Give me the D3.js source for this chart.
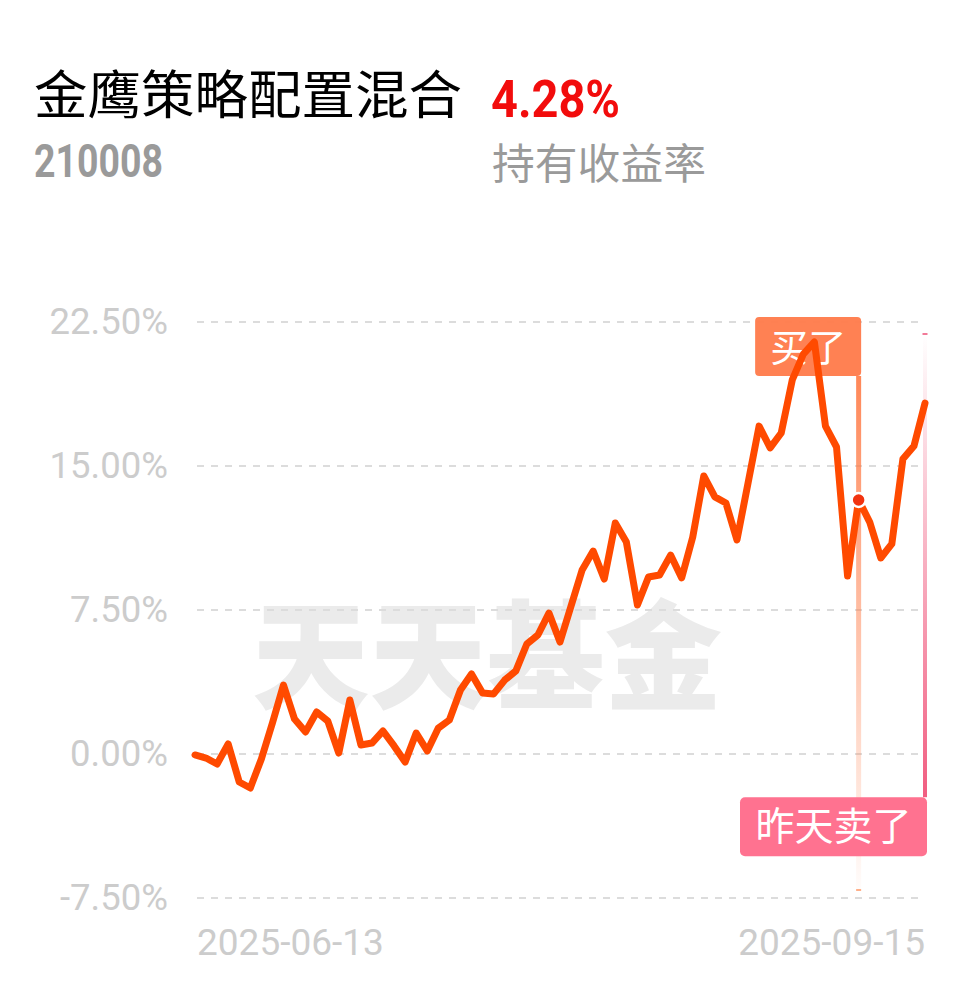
<!DOCTYPE html>
<html>
<head>
<meta charset="utf-8">
<script src="https://cdn.jsdelivr.net/npm/d3@7"></script>
<style>
  html, body { margin: 0; padding: 0; background: #fff; }
  svg { display: block; }
</style>
</head>
<body>
<svg id="chart" width="978" height="986"></svg>
<script>
// ---- data ----
const fundName = "金鹰策略配置混合";
const fundCode = "210008";
const holdReturn = "4.28%";
const holdReturnLabel = "持有收益率";
const watermark = "天天基金";

const dates = [
  "2025-06-13",
  "2025-06-16","2025-06-17","2025-06-18","2025-06-19","2025-06-20",
  "2025-06-23","2025-06-24","2025-06-25","2025-06-26","2025-06-27",
  "2025-06-30","2025-07-01","2025-07-02","2025-07-03","2025-07-04",
  "2025-07-07","2025-07-08","2025-07-09","2025-07-10","2025-07-11",
  "2025-07-14","2025-07-15","2025-07-16","2025-07-17","2025-07-18",
  "2025-07-21","2025-07-22","2025-07-23","2025-07-24","2025-07-25",
  "2025-07-28","2025-07-29","2025-07-30","2025-07-31","2025-08-01",
  "2025-08-04","2025-08-05","2025-08-06","2025-08-07","2025-08-08",
  "2025-08-11","2025-08-12","2025-08-13","2025-08-14","2025-08-15",
  "2025-08-18","2025-08-19","2025-08-20","2025-08-21","2025-08-22",
  "2025-08-25","2025-08-26","2025-08-27","2025-08-28","2025-08-29",
  "2025-09-01","2025-09-02","2025-09-03","2025-09-04","2025-09-05",
  "2025-09-08","2025-09-09","2025-09-10","2025-09-11","2025-09-12",
  "2025-09-15"
];
const returns = [
  -0.05, -0.21, -0.52, 0.52, -1.46, -1.77, -0.26, 1.61, 3.59, 1.82,
  1.15, 2.19, 1.72, 0.05, 2.81, 0.47, 0.57, 1.20, 0.42, -0.42,
  1.09, 0.16, 1.35, 1.77, 3.33, 4.17, 3.18, 3.13, 3.85, 4.32,
  5.73, 6.20, 7.34, 5.83, 7.71, 9.58, 10.57, 9.11, 12.03, 11.04,
  7.76, 9.22, 9.32, 10.36, 9.17, 11.30, 14.48, 13.39, 13.07, 11.15,
  14.11, 17.08, 15.94, 16.72, 19.48, 20.83, 21.46, 17.08, 15.99, 9.27,
  13.23, 12.08, 10.21, 10.94, 15.36, 16.04, 18.28
];
const yTicks = [-7.5, 0, 7.5, 15, 22.5];
const xTickLabels = ["2025-06-13", "2025-09-15"];
const buyDate = "2025-09-05";
const buyLabel = "买了";
const sellDate = "2025-09-15";
const sellLabel = "昨天卖了";

// ---- layout ----
const svg = d3.select("#chart");
const plot = { left: 195, right: 925, top: 322, bottom: 898 };

const x = d3.scalePoint().domain(dates).range([plot.left, plot.right]);
const y = d3.scaleLinear().domain([-7.5, 22.5]).range([plot.bottom, plot.top]);

const defs = svg.append("defs");
const gBuy = defs.append("linearGradient").attr("id", "buyGrad")
  .attr("x1", 0).attr("y1", 0).attr("x2", 0).attr("y2", 1);
gBuy.append("stop").attr("offset", "0%").attr("stop-color", "#ff7a45").attr("stop-opacity", 0.9);
gBuy.append("stop").attr("offset", "100%").attr("stop-color", "#ff7a45").attr("stop-opacity", 0.02);
const gSell = defs.append("linearGradient").attr("id", "sellGrad")
  .attr("x1", 0).attr("y1", 0).attr("x2", 0).attr("y2", 1);
gSell.append("stop").attr("offset", "0%").attr("stop-color", "#f0557a").attr("stop-opacity", 0.0);
gSell.append("stop").attr("offset", "100%").attr("stop-color", "#f0557a").attr("stop-opacity", 0.95);

// Header
const sansCJK = "'Noto Sans CJK SC', 'Noto Sans', sans-serif";
svg.append("text").attr("x", 34).attr("y", 114)
  .attr("font-family", sansCJK).attr("font-size", 52).attr("fill", "#000")
  .attr("textLength", 428).attr("lengthAdjust", "spacingAndGlyphs")
  .text(fundName);
svg.append("text").attr("x", 491).attr("y", 117)
  .attr("font-family", "Roboto, sans-serif").attr("font-weight", 700)
  .attr("font-size", 52).attr("fill", "#f20c0c")
  .attr("textLength", 129).attr("lengthAdjust", "spacingAndGlyphs")
  .text(holdReturn);
svg.append("text").attr("x", 34).attr("y", 177)
  .attr("font-family", "Roboto, sans-serif").attr("font-weight", 700)
  .attr("font-size", 47).attr("fill", "#9a9a9a")
  .attr("textLength", 129).attr("lengthAdjust", "spacingAndGlyphs")
  .text(fundCode);
svg.append("text").attr("x", 492).attr("y", 179)
  .attr("font-family", sansCJK).attr("font-size", 42).attr("fill", "#9a9a9a")
  .attr("textLength", 214).attr("lengthAdjust", "spacingAndGlyphs")
  .text(holdReturnLabel);

// Watermark
svg.append("text").attr("x", 487).attr("y", 700)
  .attr("text-anchor", "middle")
  .attr("font-family", sansCJK).attr("font-weight", 900)
  .attr("font-size", 118).attr("fill", "#ebebeb")
  .attr("textLength", 470).attr("lengthAdjust", "spacingAndGlyphs")
  .text(watermark);

// Grid + y labels
const fmtPct = d => d3.format(".2f")(d).replace("\u2212", "-") + "%";
const grid = svg.append("g");
grid.selectAll("line").data(yTicks).join("line")
  .attr("x1", plot.left + 2).attr("x2", plot.right)
  .attr("y1", d => y(d)).attr("y2", d => y(d))
  .attr("stroke", "#dcdcdc").attr("stroke-width", 2)
  .attr("stroke-dasharray", "7,7");
grid.selectAll("text").data(yTicks).join("text")
  .attr("x", 168).attr("y", d => y(d) + 12)
  .attr("text-anchor", "end")
  .attr("font-family", "Roboto, sans-serif").attr("font-size", 36.5)
  .attr("fill", "#cccccc")
  .text(fmtPct);

// X labels
svg.append("text").attr("x", x(xTickLabels[0]) + 2).attr("y", 955)
  .attr("font-family", "Roboto, sans-serif").attr("font-size", 37).attr("fill", "#cccccc")
  .text(xTickLabels[0]);
svg.append("text").attr("x", x(xTickLabels[1])).attr("y", 955)
  .attr("text-anchor", "end")
  .attr("font-family", "Roboto, sans-serif").attr("font-size", 37).attr("fill", "#cccccc")
  .text(xTickLabels[1]);

// Buy marker line
const bx = x(buyDate);
svg.append("rect").attr("x", bx - 2.5).attr("y", 376).attr("width", 5).attr("height", 514)
  .attr("fill", "url(#buyGrad)");
svg.append("rect").attr("x", bx - 2.5).attr("y", 889).attr("width", 5).attr("height", 2)
  .attr("fill", "#ffb08a");

// Sell marker line
const sx = x(sellDate);
svg.append("rect").attr("x", sx - 2).attr("y", 334).attr("width", 4).attr("height", y(-2.25) - 334)
  .attr("fill", "url(#sellGrad)");
svg.append("rect").attr("x", sx - 2.5).attr("y", 333).attr("width", 5).attr("height", 2)
  .attr("fill", "#f27a98");

// Buy label (drawn under the return line)
const buyW = 106, buyH = 59;
svg.append("rect").attr("x", bx + 2.5 - buyW).attr("y", 317).attr("width", buyW).attr("height", buyH)
  .attr("rx", 4).attr("fill", "#ff7a4a").attr("fill-opacity", 0.95);
svg.append("text").attr("x", bx + 2.5 - buyW / 2).attr("y", 361)
  .attr("text-anchor", "middle")
  .attr("font-family", sansCJK).attr("font-size", 38).attr("fill", "#fff")
  .text(buyLabel);

// Return line
const line = d3.line().x((d, i) => x(dates[i])).y(d => y(d));
svg.append("path").datum(returns)
  .attr("d", line)
  .attr("fill", "none").attr("stroke", "#ff4a00").attr("stroke-width", 7)
  .attr("stroke-linejoin", "round").attr("stroke-linecap", "round");

// Buy dot
const bi = dates.indexOf(buyDate);
svg.append("circle").attr("cx", bx).attr("cy", y(returns[bi])).attr("r", 7)
  .attr("fill", "#f2330f").attr("stroke", "#fff").attr("stroke-width", 2.5);

// Sell label
const sellW = 187, sellH = 59;
const sellTop = y(-2.25);
svg.append("rect").attr("x", sx + 2 - sellW).attr("y", sellTop).attr("width", sellW).attr("height", sellH)
  .attr("rx", 5).attr("fill", "#ff6d8c").attr("fill-opacity", 0.97);
svg.append("text").attr("x", sx + 2 - sellW / 2).attr("y", sellTop + 43)
  .attr("text-anchor", "middle")
  .attr("font-family", sansCJK).attr("font-size", 39).attr("fill", "#fff")
  .text(sellLabel);
</script>
</body>
</html>
